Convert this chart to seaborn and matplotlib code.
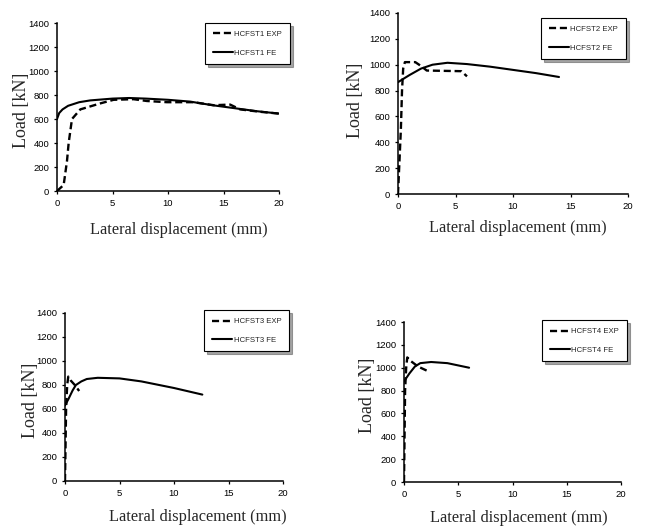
import numpy as np
import pandas as pd
import matplotlib
matplotlib.use('Agg')
import matplotlib.pyplot as plt
import seaborn as sns

exp1_x = [0, 0.6, 0.9, 1.05, 1.35, 2.1, 3.9, 5.1, 6.9, 8.1, 9.9, 11.1, 12.3, 14.1, 15.6, 16.5, 18.3, 20]
exp1_y = [0, 50, 250, 400, 600, 680, 730, 760, 765, 750, 740, 740, 740, 715, 720, 680, 660, 645]
fe1_x = [0, 0.2, 0.5, 1, 2, 3, 5, 6.5, 8, 10, 12, 14, 16, 18, 20]
fe1_y = [600, 650, 680, 710, 740, 755, 770, 775, 770, 760, 745, 715, 690, 665, 645]

exp2_x = [0, 0.1, 0.25, 0.35, 0.45, 0.6, 1.5, 2.0, 2.5, 5.5, 6.0]
exp2_y = [0, 200, 500, 800, 970, 1020, 1020, 990, 955, 950, 910]
fe2_x = [0, 1, 2, 3, 4.3, 6, 8, 10, 12, 14]
fe2_y = [865, 920, 970, 1000, 1015, 1005, 985, 960, 935, 905]

exp3_x = [0, 0.05, 0.1, 0.2, 0.3, 0.5, 0.9, 1.3]
exp3_y = [0, 300, 600, 800, 870, 840, 800, 750]
fe3_x = [0, 0.3, 0.7, 1, 1.5, 2, 3, 5, 7, 10, 12.6]
fe3_y = [630, 680, 755, 800, 830, 850, 860, 855, 830, 775, 720]

exp4_x = [0, 0.05, 0.1, 0.2, 0.3, 0.6, 1.3, 2.2]
exp4_y = [0, 400, 800, 1000, 1090, 1060, 1010, 970]
fe4_x = [0, 0.5, 1, 1.5, 2.5, 4, 6]
fe4_y = [880, 950, 1010, 1040, 1050, 1040, 1000]

specimens = ['HCFST1', 'HCFST2', 'HCFST3', 'HCFST4']
exp_data = [(exp1_x, exp1_y), (exp2_x, exp2_y), (exp3_x, exp3_y), (exp4_x, exp4_y)]
fe_data = [(fe1_x, fe1_y), (fe2_x, fe2_y), (fe3_x, fe3_y), (fe4_x, fe4_y)]

sns.set_style('ticks')
plt.rcParams['font.family'] = ['Liberation Sans']

fig = plt.figure(figsize=(6.45, 5.28), dpi=100)

W, H = 645, 528
# axes boxes in pixels: left, top, right, bottom
boxes = [(57, 23, 279, 191), (398, 13, 628, 194), (65, 313, 283, 481), (404, 322, 621, 482)]
legend_corner = [(290, 23), (626, 18), (289, 310), (627, 320)]
xlabel_pos = [(0.55, -0.235), (0.52, -0.19), (0.61, -0.215), (0.53, -0.225)]
ylabel_pos = [(-0.158, 0.48), (-0.185, 0.52), (-0.16, 0.48), (-0.17, 0.54)]

for i, name in enumerate(specimens):
    l, t, r, b = boxes[i]
    ax = fig.add_axes([l / W, 1 - b / H, (r - l) / W, (b - t) / H])
    ex, ey = exp_data[i]
    fx, fy = fe_data[i]
    sns.lineplot(x=ex, y=ey, ax=ax, color='black', sort=False, estimator=None,
                 linestyle=(0, (3, 1.6)), linewidth=1.7, label=name + ' EXP')
    sns.lineplot(x=fx, y=fy, ax=ax, color='black', sort=False, estimator=None,
                 linewidth=1.5, label=name + ' FE')
    ax.set_xlim(0, 20)
    ax.set_ylim(0, 1400)
    ax.set_xticks(np.arange(0, 21, 5))
    ax.set_yticks(np.arange(0, 1401, 200))
    ax.tick_params(labelsize=6.8, length=2.5, width=0.9, pad=3, colors='black')
    sns.despine(ax=ax)
    for s in ['left', 'bottom']:
        ax.spines[s].set_linewidth(1.1)
        ax.spines[s].set_color('black')

    ax.set_xlabel('Lateral displacement (mm)', family='Liberation Serif', fontsize=11.8, va='center')
    ax.xaxis.set_label_coords(*xlabel_pos[i])
    ax.set_ylabel('Load [kN]', family='Liberation Serif', fontsize=13, va='center')
    ax.yaxis.set_label_coords(*ylabel_pos[i])

    lx, ly = legend_corner[i]
    leg = ax.legend(loc='upper right', bbox_to_anchor=(lx / W, 1 - ly / H),
                    bbox_transform=fig.transFigure, fontsize=5.6, frameon=True,
                    fancybox=False, shadow=True, handlelength=2.6, labelspacing=1.4,
                    borderpad=1.0, handletextpad=0.2, borderaxespad=0)
    leg.get_frame().set_edgecolor('black')
    leg.get_frame().set_linewidth(0.8)

fig.savefig('out.png', dpi=100)
